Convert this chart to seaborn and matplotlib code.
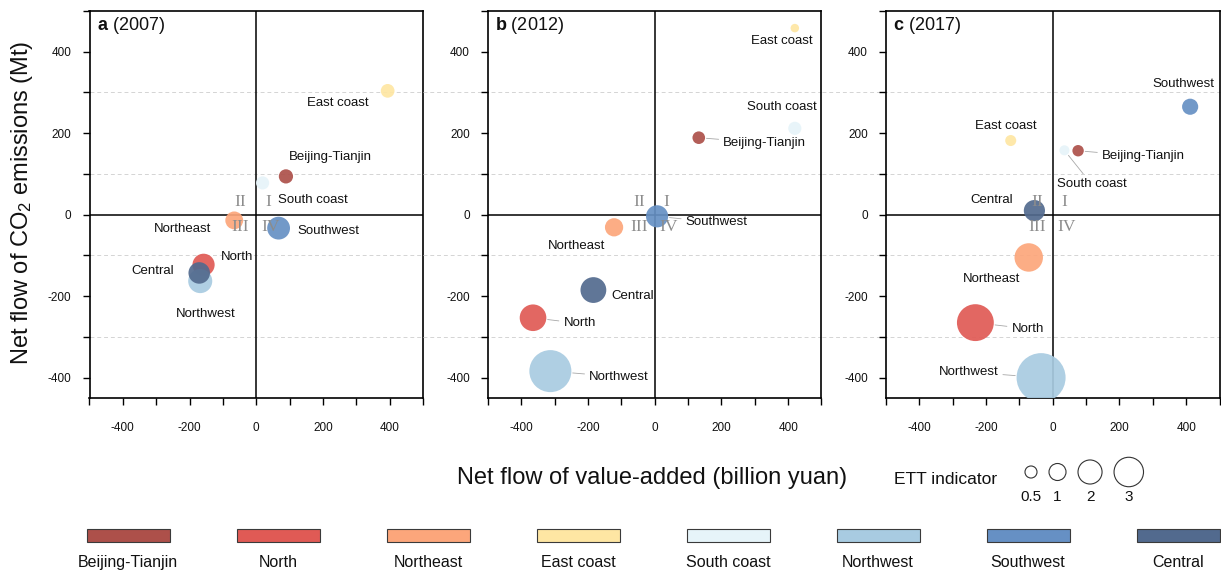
import numpy as np
import pandas as pd
import matplotlib
matplotlib.use('Agg')
import matplotlib.pyplot as plt
from matplotlib.ticker import MultipleLocator
import seaborn as sns

# regiões e cores
regioes = ['Beijing-Tianjin', 'North', 'Northeast', 'East coast',
           'South coast', 'Northwest', 'Southwest', 'Central']
cores = {
    'Beijing-Tianjin': '#ad504a', 'North': '#e05a55', 'Northeast': '#fca67b',
    'East coast': '#fee6a3', 'South coast': '#e6f4f9', 'Northwest': '#a8cbe1',
    'Southwest': '#6690c4', 'Central': '#526a8e',
}

anos = ['2007', '2012', '2017']
letras = ['a', 'b', 'c']

# fluxo líquido de valor adicionado (bilhões de yuan)
va_2007 = [89, -158, -66, 394, 19, -168, 67, -171]
va_2012 = [132, -365, -122, 420, 420, -313, 7, -184]
va_2017 = [76, -232, -72, -126, 35, -35, 412, -55]

# fluxo líquido de CO2 (Mt)
co2_2007 = [94, -123, -14, 304, 78, -163, -33, -143]
co2_2012 = [189, -253, -31, 458, 212, -384, -4, -185]
co2_2017 = [157, -265, -105, 182, 158, -400, 265, 10]

# indicador ETT
ett_2007 = [0.7, 1.7, 1.1, 0.65, 0.6, 2.0, 1.8, 1.6]
ett_2012 = [0.55, 2.45, 1.15, 0.25, 0.6, 6.1, 1.7, 2.3]
ett_2017 = [0.45, 4.7, 2.8, 0.42, 0.35, 8.3, 0.9, 1.55]

ett_legenda = [0.5, 1, 2, 3]

# posição dos rótulos (centro do texto, em unidades dos dados)
rotulos = {
    '2007': {'East coast': (246, 274), 'Beijing-Tianjin': (222, 141), 'South coast': (169, 37),
             'Northeast': (-221, -35), 'Southwest': (215, -40), 'North': (-59, -104),
             'Central': (-311, -139), 'Northwest': (-150, -245)},
    '2012': {'East coast': (381, 427), 'South coast': (381, 265), 'Beijing-Tianjin': (330, 176),
             'Southwest': (186, -19), 'Northeast': (-233, -78), 'Central': (-66, -199),
             'North': (-225, -267), 'Northwest': (-107, -398)},
    '2017': {'Southwest': (392, 320), 'East coast': (-142, 218), 'Beijing-Tianjin': (272, 143),
             'South coast': (116, 75), 'Central': (-184, 37), 'Northeast': (-184, -159),
             'North': (-75, -280), 'Northwest': (-253, -386)},
}
com_linha = {
    '2007': [],
    '2012': ['Beijing-Tianjin', 'Southwest', 'North', 'Northwest'],
    '2017': ['Beijing-Tianjin', 'South coast', 'North', 'Northwest'],
}

dados = {
    '2007': (va_2007, co2_2007, ett_2007),
    '2012': (va_2012, co2_2012, ett_2012),
    '2017': (va_2017, co2_2017, ett_2017),
}

S_UNIT = 150  # pt^2 por unidade de ETT

sns.set_style('ticks')
plt.rcParams['font.family'] = ['Liberation Sans', 'DejaVu Sans']
plt.rcParams['mathtext.fontset'] = 'custom'
plt.rcParams['mathtext.rm'] = 'Liberation Sans'
plt.rcParams['mathtext.bf'] = 'Liberation Sans:bold'
plt.rcParams['mathtext.it'] = 'Liberation Sans:italic'
plt.rcParams['axes.unicode_minus'] = False
plt.rcParams['text.color'] = '#111111'
plt.rcParams['xtick.color'] = 'black'
plt.rcParams['ytick.color'] = 'black'
plt.rcParams['xtick.labelcolor'] = '#111111'
plt.rcParams['ytick.labelcolor'] = '#111111'

W, H = 1221, 573
fig = plt.figure(figsize=(W / 100, H / 100), dpi=100)


def eixo_px(l, t, r, b):
    return fig.add_axes([l / W, 1 - b / H, (r - l) / W, (b - t) / H])


esquerdas = [89.5, 488, 886]
quadrantes = [('I', 35, 30), ('II', -48, 30), ('III', -48, -30), ('IV', 42, -30)]

for i, ano in enumerate(anos):
    esq = esquerdas[i]
    ax = eixo_px(esq, 11, esq + 333.5, 398)
    va, co2, ett = dados[ano]
    df = pd.DataFrame({'regiao': regioes, 'va': va, 'co2': co2, 'ett': ett})

    # linhas de grade tracejadas (atravessam o espaço entre painéis)
    ext = 0 if i == 0 else -(esquerdas[i] - esquerdas[i - 1] - 333.5) / 333.5
    for gy in [-300, -100, 100, 300]:
        ax.plot([ext, 1], [gy, gy], transform=ax.get_yaxis_transform(),
                ls=(0, (4, 3)), color='#d4d4d4', lw=0.7, clip_on=False, zorder=0)
    ax.axhline(0, color='black', lw=1.1, zorder=1)
    ax.axvline(0, color='black', lw=1.1, zorder=1)

    sns.scatterplot(data=df, x='va', y='co2', hue='regiao', palette=cores,
                    size='ett', sizes=(0, S_UNIT * 10), size_norm=(0, 10),
                    alpha=0.92, linewidth=0, legend=False, ax=ax, zorder=3)

    for nome, xq, yq in quadrantes:
        ax.text(xq, yq, nome, ha='center', va='center', fontsize=12.5, color='#8c8c8c',
                family=['Liberation Serif', 'DejaVu Serif'], zorder=4)

    for _, row in df.iterrows():
        lx, ly = rotulos[ano][row['regiao']]
        if row['regiao'] in com_linha[ano]:
            raio = np.sqrt(S_UNIT * row['ett']) / 2
            ax.annotate(row['regiao'], xy=(row['va'], row['co2']), xytext=(lx, ly),
                        ha='center', va='center', fontsize=9.5, zorder=5,
                        arrowprops=dict(arrowstyle='-', color='#a8a8a8', lw=0.6,
                                        shrinkA=1, shrinkB=raio + 1))
        else:
            ax.text(lx, ly, row['regiao'], ha='center', va='center', fontsize=9.5, zorder=5)

    ax.set_xlim(-500, 500)
    ax.set_ylim(-450, 500)
    ax.xaxis.set_major_locator(MultipleLocator(200))
    ax.xaxis.set_minor_locator(MultipleLocator(100))
    ax.yaxis.set_major_locator(MultipleLocator(200))
    ax.yaxis.set_minor_locator(MultipleLocator(100))
    ax.tick_params(which='both', direction='out', length=5, width=1, labelsize=8.5)
    ax.tick_params(axis='x', pad=12)
    ax.tick_params(axis='y', pad=8)
    ax.set_xlabel('')
    ax.set_ylabel('')
    for sp in ax.spines.values():
        sp.set_visible(True)
        sp.set_linewidth(1.2)
        sp.set_color('black')

    ax.text(0.022, 0.962, r'$\mathbf{' + letras[i] + '}$ (' + ano + ')', transform=ax.transAxes,
            ha='left', va='center', fontsize=13)

# rótulos dos eixos
fig.text(22 / W, 1 - 203 / H, 'Net flow of CO$_2$ emissions (Mt)', rotation=90,
         ha='center', va='center', fontsize=17)
fig.text(652 / W, 1 - 478 / H, 'Net flow of value-added (billion yuan)',
         ha='center', va='center', fontsize=17)
fig.text(946 / W, 1 - 480 / H, 'ETT indicator', ha='center', va='center', fontsize=12.5)

# legenda de tamanhos
axs = eixo_px(1010, 455, 1150, 505)
axs.set_xlim(0, 140)
axs.set_ylim(50, 0)
raios_px = [17 * np.sqrt(v) / 2 for v in ett_legenda]
xs = [21]
for k in range(1, len(ett_legenda)):
    xs.append(xs[-1] + raios_px[k - 1] + 12 + raios_px[k])
axs.scatter(xs, [17] * len(xs), s=[S_UNIT * v for v in ett_legenda],
            facecolors='none', edgecolors='#333333', linewidths=0.8, clip_on=False)
for x, v in zip(xs, ett_legenda):
    axs.text(x, 42, f'{v:g}', ha='center', va='center', fontsize=11)
axs.axis('off')

# legenda de cores
axl = eixo_px(53, 529, 1253, 542)
axl.bar(range(len(regioes)), [1] * len(regioes), width=83 / 150,
        color=[cores[r] for r in regioes], edgecolor='#3a3a3a', linewidth=0.8, clip_on=False)
for k, r in enumerate(regioes):
    axl.text(k, -1.6, r, ha='center', va='center', fontsize=11.5)
axl.set_xlim(-0.5, len(regioes) - 0.5)
axl.set_ylim(0, 1)
axl.axis('off')

fig.savefig('out.png', dpi=100, facecolor='white')
